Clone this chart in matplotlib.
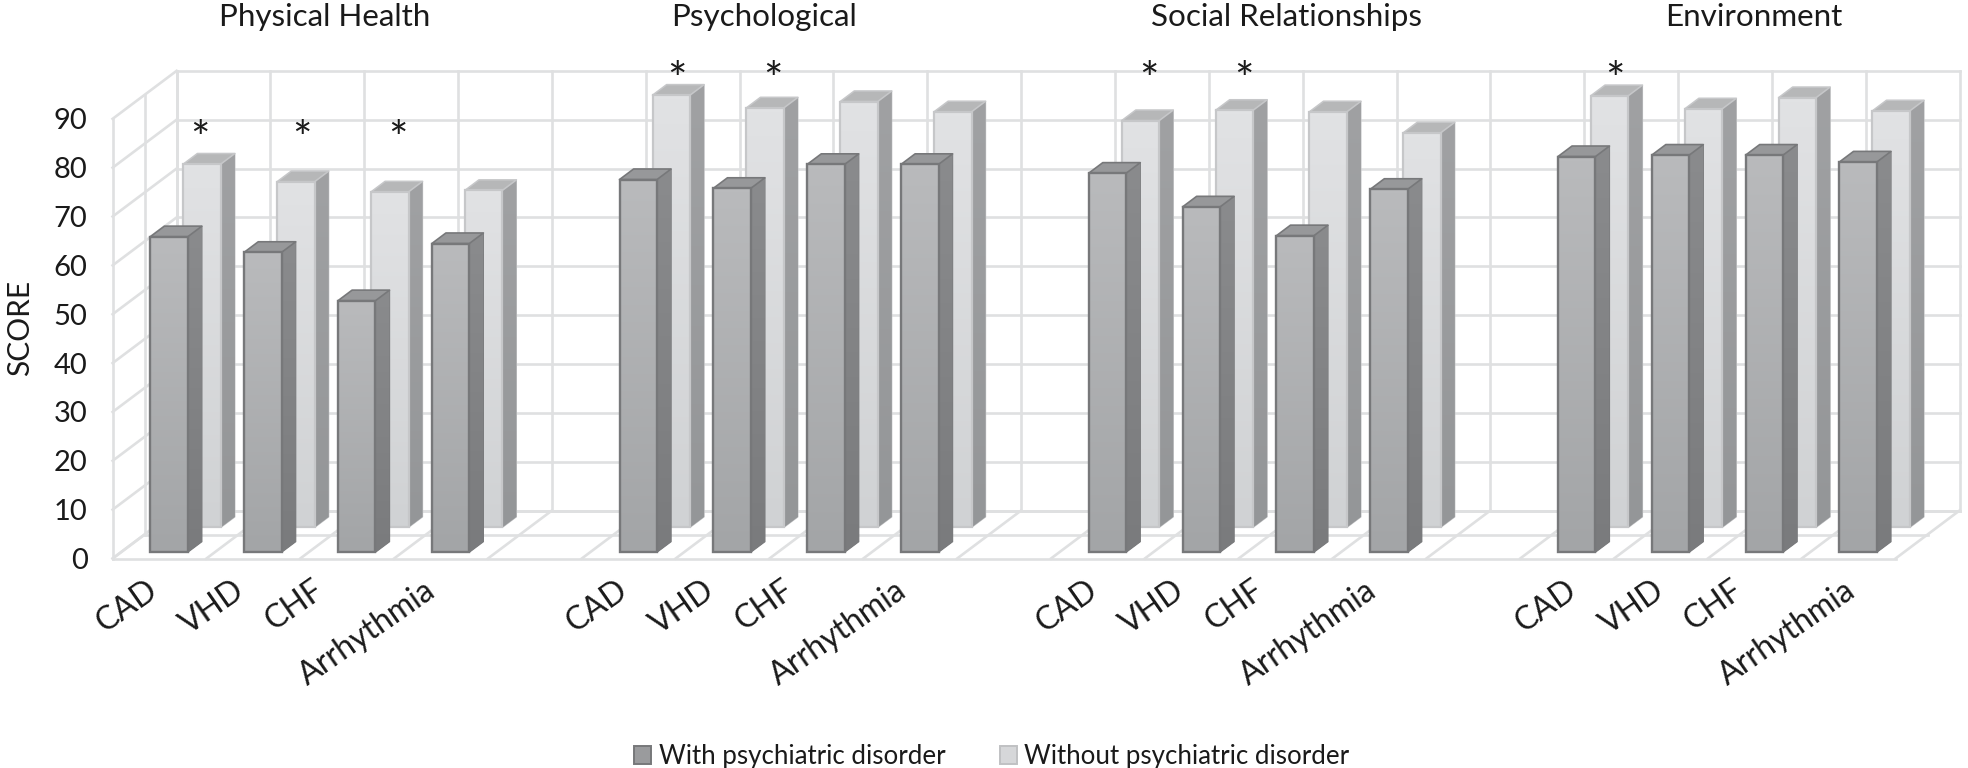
import numpy as np
import matplotlib
matplotlib.use("Agg")
import matplotlib.pyplot as plt
from matplotlib.colors import LinearSegmentedColormap
from matplotlib.patches import Polygon, Patch

plt.rcParams['font.family'] = ['Lato', 'DejaVu Sans']

# ---------- data ----------
groups = ["Physical Health", "Psychological", "Social Relationships", "Environment"]
categories = ["CAD", "VHD", "CHF", "Arrhythmia"]
with_disorder = [
    [64.6, 61.4, 51.5, 63.2],
    [76.3, 74.5, 79.4, 79.4],
    [77.6, 70.7, 64.8, 74.3],
    [81.0, 81.3, 81.3, 79.9],
]
without_disorder = [
    [74.4, 70.8, 68.7, 69.0],
    [88.5, 85.9, 87.2, 85.1],
    [83.3, 85.4, 85.1, 80.8],
    [88.4, 85.7, 88.0, 85.3],
]
# significance marks: (group, category)
stars = [(0, 0), (0, 1), (0, 2), (1, 0), (1, 1), (2, 0), (2, 1), (3, 0)]
star_levels = [88, 88, 88, 100, 100, 100, 100, 100]
y_ticks = list(range(0, 100, 10))
legend_labels = ["With psychiatric disorder", "Without psychiatric disorder"]

# ---------- geometry ----------
W, H = 1968, 768
LEFT, BASE = 112.6, 558.5
CAT_PX, VAL_PX = 93.84, 4.885
N_CATS = 19
DEPTH_X = 64 / CAT_PX
DEPTH_Y = 48 / VAL_PX
BAR_W = 37.5 / CAT_PX
BAR_SHIFT = 0.013
GRID = "#dfe0e1"

fig = plt.figure(figsize=(W / 100, H / 100), dpi=100, facecolor="white")
ax = fig.add_axes([LEFT / W, (H - BASE) / H, N_CATS * CAT_PX / W, 90 * VAL_PX / H])
ax.patch.set_visible(False)
for s in ax.spines.values():
    s.set_visible(False)


def proj(x, y, d):
    return x + d * DEPTH_X, y + d * DEPTH_Y


def line(p, q, lw=1.9):
    ax.plot([p[0], q[0]], [p[1], q[1]], color=GRID, lw=lw, clip_on=False,
            solid_capstyle="projecting", zorder=1)


# walls and floor
for v in y_ticks:
    line(proj(0, v, 0), proj(0, v, 1))
    line(proj(0, v, 1), proj(N_CATS, v, 1))
for d in (0, 0.5, 1):
    line(proj(0, 0, d), proj(0, 90, d))
    line(proj(0, 0, d), proj(N_CATS, 0, d))
for c in range(N_CATS + 1):
    line(proj(c, 0, 0), proj(c, 0, 1))
    line(proj(c, 0, 1), proj(c, 90, 1))


def cmap2(top, bottom):
    return LinearSegmentedColormap.from_list("g", [bottom, top])


GRAD = np.linspace(1, 0, 64).reshape(-1, 1)


def draw_bars(values, depth, front, side, top, edge, edge_lw, z):
    span = 0.22
    for g, row in enumerate(values):
        for k, v in enumerate(row):
            c = g * 5 + k + BAR_SHIFT
            x0, y0 = proj(c + 0.5 - BAR_W / 2, 0, depth)
            x1, _ = proj(c + 0.5 + BAR_W / 2, 0, depth)
            ytop = y0 + v
            bx, by = span * DEPTH_X, span * DEPTH_Y
            # side
            side_poly = Polygon([(x1, y0), (x1 + bx, y0 + by), (x1 + bx, ytop + by), (x1, ytop)],
                                closed=True, fc=side[0], ec=edge, lw=edge_lw * 0.5,
                                clip_on=False, zorder=z)
            ax.add_patch(side_poly)
            im = ax.imshow(GRAD, extent=[x1, x1 + bx, y0, ytop + by], aspect="auto",
                           cmap=cmap2(*side), vmin=0, vmax=1, zorder=z + 0.01,
                           interpolation="bilinear")
            im.set_clip_box(fig.bbox)
            im.set_clip_path(side_poly)
            # top
            ax.add_patch(Polygon([(x0, ytop), (x1, ytop), (x1 + bx, ytop + by), (x0 + bx, ytop + by)],
                                 closed=True, fc=top, ec=edge, lw=edge_lw * 0.7,
                                 clip_on=False, zorder=z + 0.02, joinstyle="round"))
            # front
            im = ax.imshow(GRAD, extent=[x0, x1, y0, ytop], aspect="auto",
                           cmap=cmap2(*front), vmin=0, vmax=1, zorder=z + 0.03,
                           interpolation="bilinear")
            im.set_clip_on(False)
            ax.bar(x0, v, width=x1 - x0, bottom=y0, align="edge", fc="none", ec=edge,
                   lw=edge_lw, clip_on=False, zorder=z + 0.04)
            z += 0.1


draw_bars(without_disorder, 0.646, ("#e1e2e4", "#d0d2d4"), ("#a0a1a3", "#949698"),
          "#b6b7b8", "#c6c7c9", 1.6, 2)
draw_bars(with_disorder, 0.13, ("#b9babc", "#a3a5a7"), ("#8a8b8d", "#7a7b7d"),
          "#97989a", "#77787a", 1.7, 6)

# stars
star_shift = [-0.01, 0.08, 0.10, 0.07, 0.10, 0.10, 0.12, 0.07]
for (g, k), lvl, sh in zip(stars, star_levels, star_shift):
    c = g * 5 + k
    xs, _ = proj(c + 0.5, 0, 0.646)
    ax.text(xs + sh, lvl - 2.5, "*", ha="center", va="center", fontsize=33, color="#1a1a1a",
            clip_on=False, zorder=12)

# titles
title_x = [2.26, 6.94, 12.51, 17.49]
for name, x in zip(groups, title_x):
    ax.text(x, 110.9, name, ha="center", va="center", fontsize=22.6, color="#1a1a1a", clip_on=False)

# axes ticks
ax.set_xlim(0, N_CATS)
ax.set_ylim(0, 90)
ax.set_yticks(y_ticks)
ax.tick_params(axis="y", length=0, pad=18, labelsize=21, labelcolor="#1a1a1a")
tick_nudge = [-0.02, -0.09, -0.25, -0.05]
group_nudge = [-0.13, -0.12, -0.11, 0.0]
xpos, xlab = [], []
for g in range(4):
    for k, name in enumerate(categories):
        xpos.append(g * 5 + k + 0.5 + tick_nudge[k] + group_nudge[g])
        xlab.append(name)
ax.set_xticks(xpos, xlab)
ax.tick_params(axis="x", length=0, pad=12, labelsize=23, labelcolor="#1a1a1a")
for t in ax.get_xticklabels():
    t.set_rotation(35)
    t.set_ha("right")
    t.set_rotation_mode("anchor")
ax.set_ylabel("SCORE", fontsize=21.5, color="#1a1a1a", va="center")
ax.yaxis.set_label_coords((20 - LEFT) / (N_CATS * CAT_PX), 0.525)

# legend
handles = [Patch(fc="#9a9b9d", ec="#77787a", lw=1.4), Patch(fc="#d6d7d9", ec="#c0c1c3", lw=1.4)]
fig.legend(handles, legend_labels, loc="center", bbox_to_anchor=(992 / W, 1 - 756.5 / H),
           ncol=2, frameon=False, fontsize=18.6, handlelength=0.65, handleheight=0.65,
           handletextpad=0.3, columnspacing=2.1, labelcolor="#1a1a1a")

fig.savefig("out.png", dpi=100)
